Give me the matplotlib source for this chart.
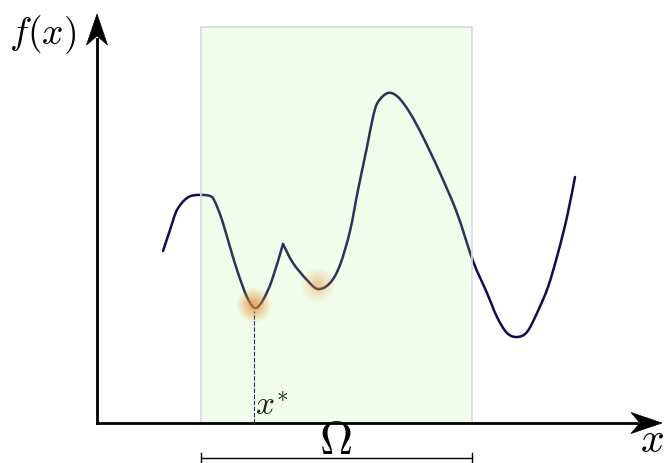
import matplotlib.pyplot as plt
import numpy as np
from matplotlib.patches import Rectangle, Polygon, PathPatch
from matplotlib.path import Path

plt.rcParams['mathtext.fontset'] = 'cm'

# curve (origin at the axis corner, units ~ pixels)
curve_x = [66, 73, 80, 90, 100, 113, 118, 125, 133, 141, 150, 158, 166, 175, 186,
           196, 210, 221, 233, 243, 253, 261, 270, 276, 281, 291, 301, 313, 326,
           343, 360, 376, 390, 400, 410, 420, 430, 440, 451, 461, 470, 478]
curve_y = [172, 193, 213, 225, 228, 227, 221, 203, 176, 150, 126, 115, 123, 143, 179,
           160, 143, 134, 140, 158, 192, 233, 276, 306, 321, 330, 326, 310, 286,
           250, 210, 162, 130, 106, 90, 86, 91, 110, 136, 170, 206, 246]
cusp = 14                   # index of the sharp kink

omega = [104, 375]          # domain Omega on the x axis
omega_top = 396
x_star = [157, 118]         # global minimum
local_min = [221, 138]      # local minimum
x_end, y_end = 565, 409     # axis tips

navy = '#0d0d50'


def smooth_path(xs, ys):
    # Catmull-Rom through the read points, drawn as cubic beziers
    p = np.column_stack([xs, ys]).astype(float)
    verts = [p[0]]
    codes = [Path.MOVETO]
    for i in range(len(p) - 1):
        p0 = p[i - 1] if i > 0 else p[i]
        p3 = p[i + 2] if i + 2 < len(p) else p[i + 1]
        c1 = p[i] + (p[i + 1] - p0) / 6
        c2 = p[i + 1] - (p3 - p[i]) / 6
        verts += [c1, c2, p[i + 1]]
        codes += [Path.CURVE4] * 3
    return Path(verts, codes)


def stealth(tip, direction, length=31, half=10.5, notch=9):
    d = np.array(direction, float)
    n = np.array([-d[1], d[0]])
    t = np.array(tip, float)
    base = t - d * length
    return Polygon([t, base + n * half, t - d * (length - notch), base - n * half],
                   closed=True, facecolor='black', edgecolor='black', lw=0.5, zorder=6)


fig = plt.figure(figsize=(6.72, 4.63), dpi=100)
ax = fig.add_axes([0, 0, 1, 1])
ax.set_xlim(-97, 575)
ax.set_ylim(-40, 423)
ax.axis('off')

# curve, split at the kink
for xs, ys in [(curve_x[:cusp + 1], curve_y[:cusp + 1]),
               (curve_x[cusp:], curve_y[cusp:])]:
    ax.add_patch(PathPatch(smooth_path(xs, ys), facecolor='none', edgecolor=navy,
                           lw=1.8, capstyle='round', zorder=2))

# dashed drop to x*
ax.plot([x_star[0], x_star[0]], [0, x_star[1] - 6], color=navy, lw=0.8,
        ls=(0, (4, 1.5)), zorder=2)

# orange glows at the minima
for (gx, gy), strength in [(x_star, 1.0), (local_min, 0.5)]:
    for s, a in [(620, 0.08), (460, 0.11), (320, 0.14), (200, 0.18), (100, 0.22), (40, 0.26)]:
        ax.scatter([gx], [gy], s=s, color='#f2781a', alpha=a * strength,
                   edgecolors='none', zorder=3)

# shaded domain
ax.add_patch(Rectangle((omega[0], 0), omega[1] - omega[0], omega_top,
                       facecolor='#aff583', alpha=0.17, edgecolor='none', zorder=4))
ax.add_patch(Rectangle((omega[0], 0), omega[1] - omega[0], omega_top,
                       facecolor='none', edgecolor='#d5dbe3', lw=1.2, zorder=4))

# axes with arrows
ax.plot([0, 0], [0, y_end - 25], color='black', lw=2, zorder=5)
ax.plot([0, x_end - 25], [0, 0], color='black', lw=2, zorder=5)
ax.add_patch(stealth((0, y_end), (0, 1)))
ax.add_patch(stealth((x_end, 0), (1, 0)))

# Omega bracket
ax.plot([omega[0], omega[1]], [-35, -35], color='black', lw=1, zorder=5)
for ox in omega:
    ax.plot([ox, ox], [-30, -40], color='black', lw=1, zorder=5)

ax.text((omega[0] + omega[1]) / 2 - 1, -19, r'$\Omega$', fontsize=33,
        ha='center', va='center')
ax.text(-54, 388, r'$f(x)$', fontsize=27, ha='center', va='center')
ax.text(555, -38.5, r'$x$', fontsize=30, ha='center', va='bottom')
ax.text(x_star[0] + 1, 1, r'$x^{*}$', fontsize=24, ha='left', va='bottom')

fig.savefig('out.png', dpi=100)
